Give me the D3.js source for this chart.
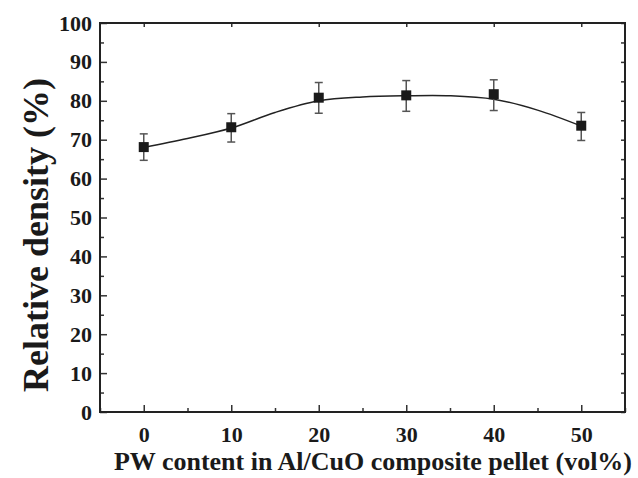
<!DOCTYPE html>
<html lang="en">
  <head>
    <meta charset="UTF-8" />
    <title>Relative density vs PW content</title>
    <style>
      body { margin: 0; background: #fff; }
    </style>
  </head>
  <body>
    <svg id="chart"></svg>
    <script src="https://cdn.jsdelivr.net/npm/d3@7"></script>
    <script>
      // measured points
      const pwContent = [0, 10, 20, 30, 40, 50];
      const density = [68.1, 73.2, 80.8, 81.4, 81.7, 73.6];
      const errUp = [71.5, 76.7, 84.7, 85.2, 85.4, 77.0];
      const errDown = [64.7, 69.4, 76.8, 77.3, 77.5, 69.8];

      // fitted curve
      const fitX = [0, 5, 10, 15, 20, 25, 30, 35, 40, 45, 50];
      const fitY = [68.0, 70.3, 73.0, 77.0, 80.0, 81.0, 81.3, 81.3, 80.4, 77.6, 73.5];

      const xTicks = [0, 10, 20, 30, 40, 50];
      const yTicks = [0, 10, 20, 30, 40, 50, 60, 70, 80, 90, 100];

      const serif = "'Liberation Serif', 'Times New Roman', serif";

      let width = 638;
      let height = 478;
      let margin = { top: 23, right: 13, bottom: 66, left: 100 };
      let svg = d3.select('#chart').attr('width', width).attr('height', height);

      let xScale = d3.scaleLinear().domain([-5, 55]).range([margin.left, width - margin.right]);
      let yScale = d3.scaleLinear().domain([0, 100]).range([height - margin.bottom, margin.top]);

      let x0 = xScale.range()[0], x1 = xScale.range()[1];
      let y0 = yScale.range()[0], y1 = yScale.range()[1];

      // axes: ticks point inward
      let xMinor = d3.range(-5, 56, 5).filter((v) => v % 10 !== 0);
      let yMinor = d3.range(5, 100, 10);

      let bottom = svg.append('g').attr('transform', `translate(0,${y0})`)
        .call(d3.axisBottom(xScale).tickValues(xTicks).tickSizeInner(-7).tickSizeOuter(0).tickPadding(14));
      svg.append('g').attr('transform', `translate(0,${y0})`)
        .call(d3.axisBottom(xScale).tickValues(xMinor).tickSizeInner(-4).tickSizeOuter(0).tickFormat(''));
      let left = svg.append('g').attr('transform', `translate(${x0},0)`)
        .call(d3.axisLeft(yScale).tickValues(yTicks).tickSizeInner(-7).tickSizeOuter(0).tickPadding(8));
      svg.append('g').attr('transform', `translate(${x0},0)`)
        .call(d3.axisLeft(yScale).tickValues(yMinor).tickSizeInner(-4).tickSizeOuter(0).tickFormat(''));
      svg.append('g').attr('transform', `translate(0,${y1})`)
        .call(d3.axisTop(xScale).tickValues(xTicks).tickSizeInner(-4).tickSizeOuter(0).tickFormat(''));
      svg.append('g').attr('transform', `translate(${x1},0)`)
        .call(d3.axisRight(yScale).tickValues(yMinor.concat(yTicks)).tickSizeInner(-4).tickSizeOuter(0).tickFormat(''));

      svg.selectAll('.domain').remove();
      svg.selectAll('.tick line').attr('stroke', '#333').attr('stroke-width', 1.5);
      [bottom, left].forEach((g) => {
        g.attr('font-family', serif).attr('font-size', 22).attr('font-weight', 'bold');
        g.selectAll('text').attr('fill', '#1a1a1a');
      });

      // frame
      svg.append('rect')
        .attr('x', x0).attr('y', y1)
        .attr('width', x1 - x0).attr('height', y0 - y1)
        .attr('fill', 'none').attr('stroke', '#222').attr('stroke-width', 2);

      // fit curve
      let line = d3.line()
        .x((d, i) => xScale(fitX[i]))
        .y((d) => yScale(d))
        .curve(d3.curveCatmullRom);
      svg.append('path').datum(fitY)
        .attr('d', line).attr('fill', 'none')
        .attr('stroke', '#222').attr('stroke-width', 1.5);

      // error bars
      let bars = svg.append('g').attr('stroke', '#555').attr('stroke-width', 1.5);
      pwContent.forEach((v, i) => {
        let cx = xScale(v);
        bars.append('line').attr('x1', cx).attr('x2', cx)
          .attr('y1', yScale(errUp[i])).attr('y2', yScale(errDown[i]));
        bars.append('line').attr('x1', cx - 4).attr('x2', cx + 4)
          .attr('y1', yScale(errUp[i])).attr('y2', yScale(errUp[i]));
        bars.append('line').attr('x1', cx - 4).attr('x2', cx + 4)
          .attr('y1', yScale(errDown[i])).attr('y2', yScale(errDown[i]));
      });

      // markers
      svg.selectAll('.pt').data(density).enter().append('rect')
        .attr('x', (d, i) => xScale(pwContent[i]) - 5)
        .attr('y', (d) => yScale(d) - 5)
        .attr('width', 10).attr('height', 10)
        .attr('fill', '#1a1a1a');

      // axis titles
      svg.append('text')
        .attr('x', 373).attr('y', 470)
        .attr('text-anchor', 'middle')
        .attr('font-family', serif).attr('font-weight', 'bold').attr('font-size', 26)
        .attr('fill', '#1a1a1a')
        .text('PW content in Al/CuO composite pellet (vol%)');
      svg.append('text')
        .attr('transform', `translate(48,235) rotate(-90)`)
        .attr('text-anchor', 'middle')
        .attr('font-family', serif).attr('font-weight', 'bold').attr('font-size', 36)
        .attr('fill', '#1a1a1a')
        .text('Relative density (%)');
    </script>
  </body>
</html>
